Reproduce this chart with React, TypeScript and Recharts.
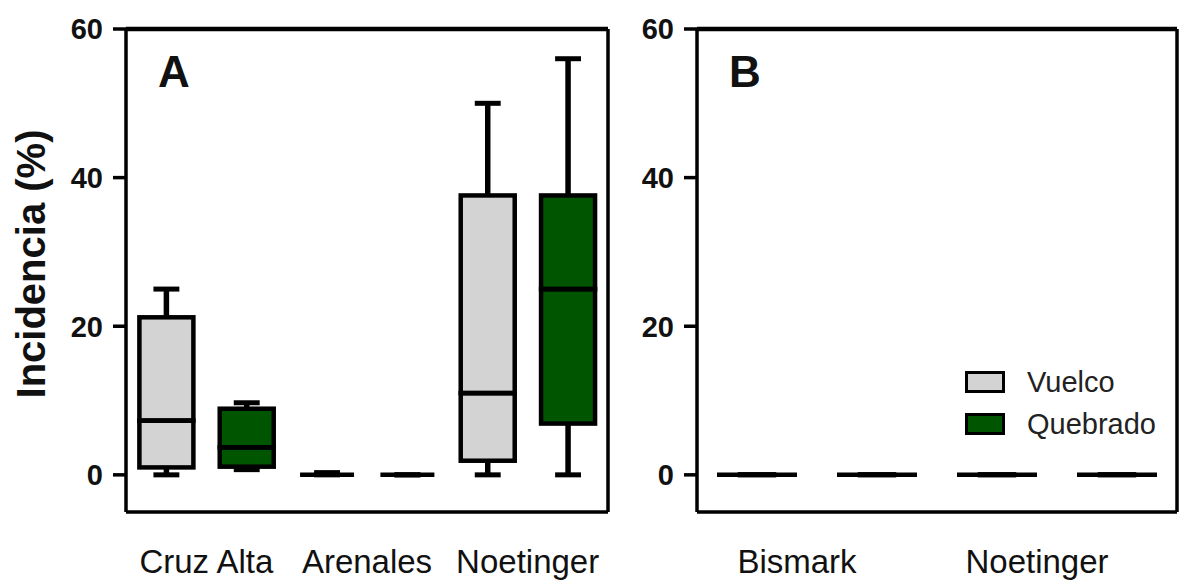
import { ComposedChart, Bar, XAxis, YAxis } from 'recharts'

// slots alternate Vuelco / Quebrado inside each locality
const SERIES = ['Vuelco', 'Quebrado']
const SERIES_FILL: Record<string, string> = { Vuelco: '#d3d3d3', Quebrado: '#005500' }

const SLOTS_A = ['Cruz Alta V', 'Cruz Alta Q', 'Arenales V', 'Arenales Q', 'Noetinger V', 'Noetinger Q']
const GROUPS_A = ['Cruz Alta', 'Arenales', 'Noetinger']
const MIN_A = [0, 0.7, 0, 0, 0, 0]
const Q1_A = [1, 1.1, 0, 0, 1.9, 6.9]
const MED_A = [7.3, 3.7, 0, 0, 11, 25]
const Q3_A = [21.2, 8.9, 0, 0, 37.6, 37.6]
const MAX_A = [25, 9.7, 0.3, 0, 50, 56]

const SLOTS_B = ['Bismark V', 'Bismark Q', 'Noetinger V', 'Noetinger Q']
const GROUPS_B = ['Bismark', 'Noetinger']
const MIN_B = [0, 0, 0, 0]
const Q1_B = [0, 0, 0, 0]
const MED_B = [0, 0, 0, 0]
const Q3_B = [0, 0, 0, 0]
const MAX_B = [0, 0, 0, 0]

const Y_TICKS = [0, 20, 40, 60]
const Y_DOMAIN: [number, number] = [-5, 60]

const FONT = '"Liberation Sans", Arial, sans-serif'
const H = 583
const TOP = 29
const BOTTOM = 512

function buildRows(slots: string[], mins: number[], q1s: number[], meds: number[], q3s: number[], maxs: number[]) {
  return slots.map((slot, i) => ({
    slot,
    series: SERIES[i % 2],
    base: mins[i],
    lowW: q1s[i] - mins[i],
    boxLo: meds[i] - q1s[i],
    boxHi: q3s[i] - meds[i],
    upW: maxs[i] - q3s[i],
  }))
}

const rowsA = buildRows(SLOTS_A, MIN_A, Q1_A, MED_A, Q3_A, MAX_A)
const rowsB = buildRows(SLOTS_B, MIN_B, Q1_B, MED_B, Q3_B, MAX_B)

const Invisible = () => <g />

const LowWhisker = (p: any) => {
  const cx = p.x + p.width / 2
  const cw = p.width * 0.48
  const yb = p.y + p.height
  return (
    <g>
      <line x1={cx} x2={cx} y1={p.y} y2={yb} stroke="#000" strokeWidth={5.5} />
      <line x1={cx - cw / 2} x2={cx + cw / 2} y1={yb} y2={yb} stroke="#000" strokeWidth={5} />
    </g>
  )
}

const UpWhisker = (p: any) => {
  const cx = p.x + p.width / 2
  const cw = p.width * 0.48
  return (
    <g>
      <line x1={cx} x2={cx} y1={p.y} y2={p.y + p.height} stroke="#000" strokeWidth={5.5} />
      <line x1={cx - cw / 2} x2={cx + cw / 2} y1={p.y} y2={p.y} stroke="#000" strokeWidth={5} />
    </g>
  )
}

const BoxPart = (p: any) => {
  const fill = SERIES_FILL[p.payload?.series] ?? '#d3d3d3'
  return (
    <g>
      <rect x={p.x} y={p.y} width={p.width} height={Math.max(0, p.height)} fill={fill} stroke="#000" strokeWidth={4.5} />
    </g>
  )
}

const BoxUpper = (p: any) => {
  const fill = SERIES_FILL[p.payload?.series] ?? '#d3d3d3'
  const yb = p.y + p.height
  return (
    <g>
      <rect x={p.x} y={p.y} width={p.width} height={Math.max(0, p.height)} fill={fill} stroke="#000" strokeWidth={4.5} />
      <line x1={p.x} x2={p.x + p.width} y1={yb} y2={yb} stroke="#000" strokeWidth={4.5} />
    </g>
  )
}

function groupTick(groups: string[], band: number, dx: number) {
  return (props: any) => {
    const { x, index } = props
    if (index % 2 !== 0) return <g />
    return (
      <text x={x + band / 2 + dx} y={573} textAnchor="middle" fontFamily={FONT} fontSize={33} fill="#111">
        {groups[index / 2]}
      </text>
    )
  }
}

function Panel({ rows, groups, letter, left, width, plotLeft, plotRight, labelDx, showYLabel }: any) {
  const band = (plotRight - plotLeft) / rows.length
  return (
    <div style={{ position: 'absolute', left, top: 0 }}>
      <ComposedChart
        width={width}
        height={H}
        data={rows}
        margin={{ top: TOP - 1, right: width - (plotRight - left) - 1, bottom: H - BOTTOM - 1, left: 0 }}
        barCategoryGap="16.67%"
      >
        <XAxis
          dataKey="slot"
          interval={0}
          height={1}
          tickSize={0}
          tickMargin={0}
          tickLine={false}
          axisLine={{ stroke: '#000', strokeWidth: 3.5 }}
          tick={groupTick(groups, band, labelDx)}
        />
        <XAxis xAxisId="top" orientation="top" dataKey="slot" height={1} tick={false} tickLine={false}
          axisLine={{ stroke: '#000', strokeWidth: 4.5 }} />
        <YAxis
          width={plotLeft - left}
          domain={Y_DOMAIN}
          ticks={Y_TICKS}
          allowDataOverflow
          tickSize={13}
          tickMargin={10}
          tickLine={{ stroke: '#000', strokeWidth: 3.5 }}
          axisLine={{ stroke: '#000', strokeWidth: 3.5 }}
          tick={{ fontFamily: FONT, fontSize: 29, fontWeight: 700, fill: '#111' }}
          label={showYLabel ? {
            content: () => (
              <text x={45} y={264} transform="rotate(-90, 45, 264)" textAnchor="middle"
                fontFamily={FONT} fontSize={40} fontWeight={700} fill="#111">
                Incidencia (%)
              </text>
            ),
          } : undefined}
        />
        <YAxis yAxisId="right" orientation="right" width={1} domain={Y_DOMAIN} allowDataOverflow tick={false}
          tickLine={false} axisLine={{ stroke: '#000', strokeWidth: 3.5 }} />
        <Bar dataKey="base" stackId="s" shape={Invisible} isAnimationActive={false} />
        <Bar dataKey="lowW" stackId="s" shape={LowWhisker} isAnimationActive={false} />
        <Bar dataKey="boxLo" stackId="s" shape={BoxPart} isAnimationActive={false} />
        <Bar dataKey="boxHi" stackId="s" shape={BoxUpper} isAnimationActive={false} />
        <Bar dataKey="upW" stackId="s" shape={UpWhisker} isAnimationActive={false} />
        <text x={plotLeft - left + 32} y={87} fontFamily={FONT} fontSize={44} fontWeight={700} fill="#111">
          {letter}
        </text>
      </ComposedChart>
    </div>
  )
}

function Legend() {
  return (
    <div style={{ position: 'absolute', left: 965, top: 361, fontFamily: FONT }}>
      {SERIES.map((s) => (
        <div key={s} style={{ display: 'flex', alignItems: 'center', height: 42 }}>
          <div style={{ width: 40, height: 22, boxSizing: 'border-box', border: '3px solid #000', background: SERIES_FILL[s] }} />
          <span style={{ marginLeft: 22, fontSize: 29, color: '#222' }}>{s}</span>
        </div>
      ))}
    </div>
  )
}

export default function App() {
  return (
    <div style={{ position: 'absolute', left: 0, top: 0, width: 1179, height: H, background: '#fff', overflow: 'hidden' }}>
      <Panel rows={rowsA} groups={GROUPS_A} letter="A" left={0} width={620} plotLeft={126} plotRight={608} labelDx={0} showYLabel />
      <Panel rows={rowsB} groups={GROUPS_B} letter="B" left={625} width={554} plotLeft={697} plotRight={1177} labelDx={-20} showYLabel={false} />
      <Legend />
    </div>
  )
}
